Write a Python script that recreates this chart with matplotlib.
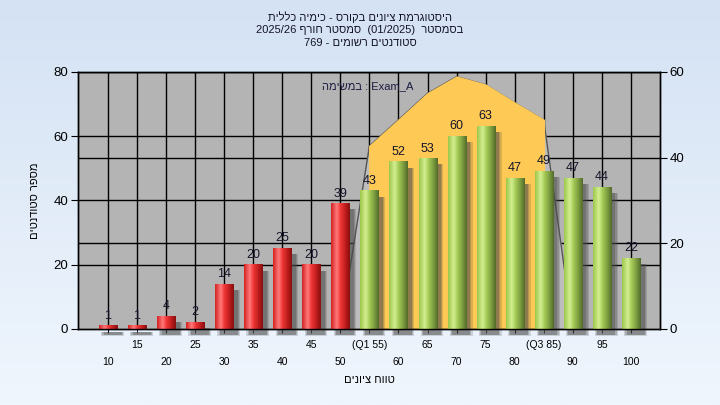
import re
import numpy as np
import matplotlib.pyplot as plt
from matplotlib.colors import LinearSegmentedColormap
from matplotlib.patches import Rectangle
from matplotlib.ticker import FixedLocator

plt.rcParams['font.family'] = ['Liberation Sans', 'DejaVu Sans']


def heb(s):
    # no bidi in matplotlib: flip the line, then put latin/digit runs back
    r = s[::-1]
    return re.sub(r'[0-9A-Za-z_/().]+', lambda m: m.group(0)[::-1], r)


# data
grades = [10, 15, 20, 25, 30, 35, 40, 45, 50, 55, 60, 65, 70, 75, 80, 85, 90, 95, 100]
counts = [1, 1, 4, 2, 14, 20, 25, 20, 39, 43, 52, 53, 60, 63, 47, 49, 47, 44, 22]
fail_below = 55
tick_labels = ['10', '15', '20', '25', '30', '35', '40', '45', '50', '(Q1 55)',
               '60', '65', '70', '75', '80', '(Q3 85)', '90', '95', '100']
# distribution curve on the right axis
curve_grades = [50, 55, 60, 65, 70, 75, 80, 85, 90]
curve_values = [0, 42.7, 48.8, 55.0, 58.9, 57.0, 52.8, 48.8, 0]
q1, q3 = 55, 85

left_max, right_max = 80, 60
left_ticks = [0, 20, 40, 60, 80]
right_ticks = [0, 20, 40, 60]

title_lines = ['היסטוגרמת ציונים בקורס - כימיה כללית',
               'בסמסטר  (01/2025)  סמסטר חורף 2025/26',
               'סטודנטים רשומים - 769']
ylabel = 'מספר סטודנטים'
xlabel = 'טווח ציונים'
task_label = heb('במשימה') + ' : Exam_A'

fig = plt.figure(figsize=(7.2, 4.05), dpi=100)

# light blue gradient behind everything
bg = fig.add_axes([0, 0, 1, 1], zorder=-10)
bg_cmap = LinearSegmentedColormap.from_list('bg', ['#d4e2f4', '#f0f6fd'])
bg.imshow(np.linspace(0, 1, 256).reshape(-1, 1), cmap=bg_cmap, aspect='auto',
          extent=(0, 1, 0, 1))
bg.axis('off')

ax = fig.add_axes([0.1083, 0.1877, 0.8083, 0.6346])
ax.set_facecolor('#b4b4b4')
ax2 = ax.twinx()

x = np.arange(len(grades))
pos = {g: i for i, g in enumerate(grades)}
ax.set_xlim(-1.03, len(grades) - 0.0)
ax.set_ylim(0, left_max)
ax2.set_ylim(0, right_max)

# grid: vertical at every bar, horizontal at both axes' ticks
for i in x:
    ax.axvline(i, color='black', lw=1, zorder=1)
for t in left_ticks[1:]:
    ax.axhline(t, color='black', lw=1, zorder=1)
for t in right_ticks[1:-1]:
    ax.axhline(t * left_max / right_max, color='black', lw=1, zorder=1)

# curve + Q1..Q3 shading, in right-axis units
cx = [pos[g] for g in curve_grades]
ax.fill_between(cx, curve_values, color='#bdbdbd', lw=0, zorder=2,
                transform=ax2.transData)
ax.plot(cx, curve_values, color='#555555', lw=1, zorder=2,
        transform=ax2.transData)
qx = [c for c, g in zip(cx, curve_grades) if q1 <= g <= q3]
qv = [v for v, g in zip(curve_values, curve_grades) if q1 <= g <= q3]
ax.fill_between(qx, qv, color='#ffc955', edgecolor='#ffc955', lw=1.2,
                zorder=2.5, transform=ax2.transData)

# cylinder-ish bars
red = LinearSegmentedColormap.from_list(
    'r', [(0, '#d42222'), (0.3, '#ff7a7a'), (0.5, '#f03636'), (0.8, '#b81a1a'), (1, '#861010')])
green = LinearSegmentedColormap.from_list(
    'g', [(0, '#9cc84a'), (0.3, '#d4ee92'), (0.5, '#a6cc58'), (0.8, '#76963c'), (1, '#526a2a')])
grad = np.linspace(0, 1, 64).reshape(1, -1)
w = 0.62
for i, (g, v) in enumerate(zip(grades, counts)):
    for k, a in enumerate([0.2, 0.25, 0.35]):
        d = 0.04 * (2 - k)
        ax.add_patch(Rectangle((i - w / 2 + 0.16 - d, -1.8 - d * 4), w + 2 * d, v + d * 4,
                               color='#4a4a4a', alpha=a, lw=0, zorder=3, clip_on=False))
    ax.imshow(grad, cmap=red if g < fail_below else green, aspect='auto',
              extent=(i - w / 2, i + w / 2, 0, v), zorder=4, interpolation='bilinear')
    ax.annotate(str(v), (i, v), xytext=(0, 3), textcoords='offset points',
                ha='center', va='bottom', fontsize=9, color='#14142a', zorder=6)

ax.set_xlim(-1.03, len(grades) - 0.0)
ax.set_ylim(0, left_max)

# two rows of x labels
ax.xaxis.set_major_locator(FixedLocator(x[::2]))
ax.xaxis.set_minor_locator(FixedLocator(x[1::2]))
ax.set_xticklabels(tick_labels[::2])
ax.set_xticklabels(tick_labels[1::2], minor=True)
ax.tick_params(axis='x', which='major', length=3, pad=17, labelsize=7.5)
ax.tick_params(axis='x', which='minor', length=3, pad=5, labelsize=7.5)

ax.set_yticks(left_ticks)
ax.tick_params(axis='y', length=5, labelsize=9.5, pad=2)
ax2.set_yticks(right_ticks)
ax2.tick_params(axis='y', length=5, labelsize=9.5, pad=2)

for a in (ax, ax2):
    for s in a.spines.values():
        s.set_color('black')
        s.set_linewidth(1)

ax.set_ylabel(heb(ylabel), fontsize=8, labelpad=10)
ax.set_xlabel(heb(xlabel), fontsize=8, labelpad=6)

ax.text(0.419, 0.945, task_label, transform=ax.transAxes, fontsize=8,
        color='#1a1a40', va='center', ha='left', zorder=7)

for k, line in enumerate(title_lines):
    fig.text(0.5, 1 - (17 + 13 * k) / 405, heb(line), ha='center', va='center',
             fontsize=8, color='#141428')

fig.savefig('out.png', dpi=100)
